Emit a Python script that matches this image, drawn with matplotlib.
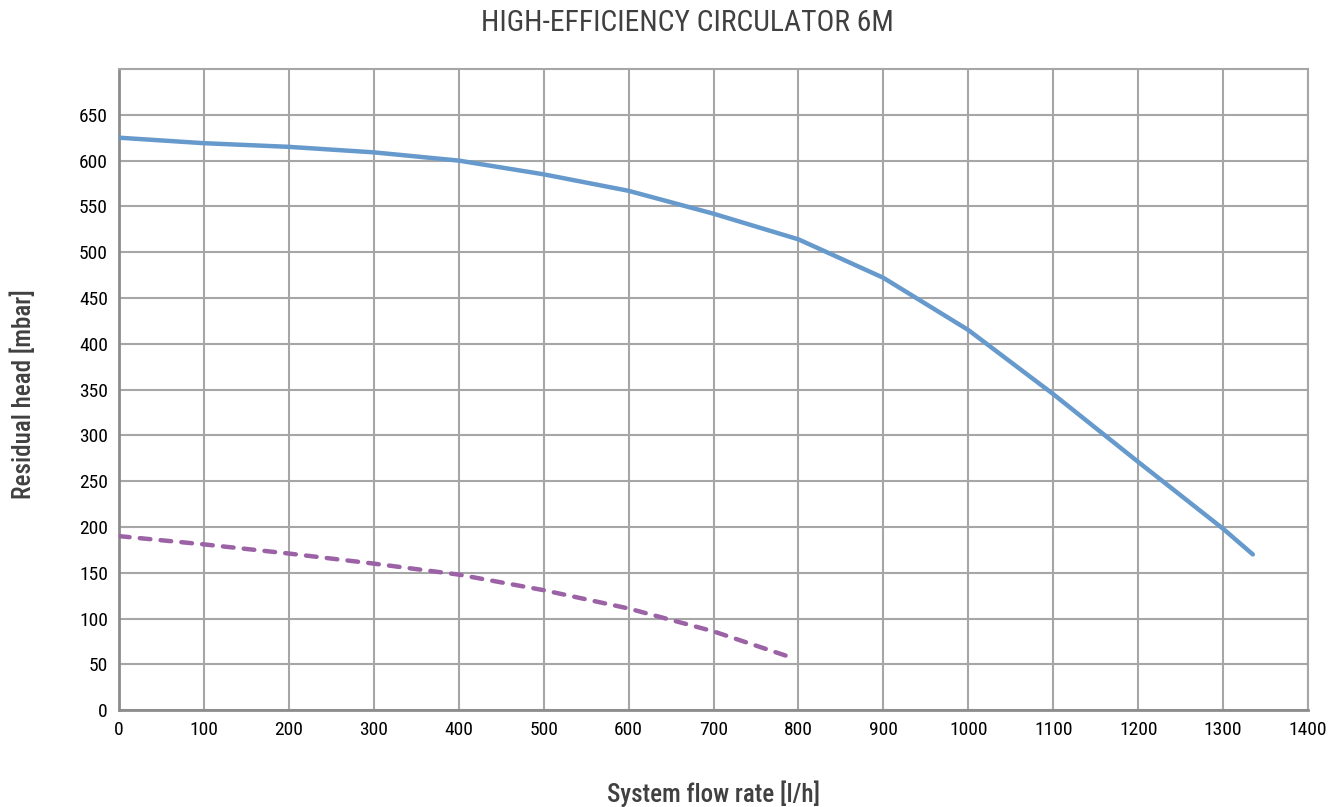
import matplotlib
matplotlib.use("Agg")
import matplotlib.pyplot as plt
from matplotlib import font_manager

flow_main = [0, 100, 200, 300, 400, 500, 600, 700, 800, 900, 1000, 1100, 1200, 1300, 1335]
head_main = [625, 619, 615, 609, 600, 585, 567, 542, 514, 472, 415, 345, 271, 198, 170]

flow_low = [0, 100, 200, 300, 400, 500, 600, 700, 790]
head_low = [190, 181, 171, 160, 148, 131, 111, 86, 58]

x_ticks = list(range(0, 1401, 100))
y_ticks = list(range(0, 651, 50))

names = {f.name for f in font_manager.fontManager.ttflist}
fam = None
for cand in ['Roboto Condensed', 'Barlow Semi Condensed', 'Archivo Narrow', 'Liberation Sans']:
    if cand in names:
        fam = cand
        break
plt.rcParams['font.family'] = [fam, 'DejaVu Sans']

fig = plt.figure(figsize=(13.43, 8.07), dpi=100)
ax = fig.add_axes([0.0886, 0.120, 0.974 - 0.0886, 0.9145 - 0.120])

ax.plot(flow_main, head_main, color='#6699CC', lw=3.2, solid_capstyle='round', zorder=3)
ax.plot(flow_low, head_low, color='#9B62A6', lw=3.2, linestyle=(0, (2.4, 2.3)),
        dash_capstyle='round', zorder=3)

ax.set_xlim(0, 1400)
ax.set_ylim(0, 700)
ax.set_xticks(x_ticks)
ax.set_yticks(y_ticks)
ax.tick_params(axis='both', length=0, labelsize=14, pad=8, colors='black')
ax.grid(True, color='#A6A6A6', lw=1.5, zorder=1)
ax.set_axisbelow(True)
for s in ['top', 'right']:
    ax.spines[s].set_color('#A6A6A6')
    ax.spines[s].set_linewidth(1.5)
for s in ['left', 'bottom']:
    ax.spines[s].set_color('#8C8C8C')
    ax.spines[s].set_linewidth(2)

fig.text(0.5115, 0.971, 'HIGH-EFFICIENCY CIRCULATOR 6M', ha='center', va='center',
         fontsize=21.3, color='#404040')
fig.text(0.531, 0.017, 'System flow rate [l/h]', ha='center', va='center',
         fontsize=18, color='#404040', fontweight='medium')
fig.text(0.017, 0.511, 'Residual head [mbar]', ha='center', va='center', rotation=90,
         fontsize=18, color='#404040', fontweight='medium')

fig.savefig('out.png', dpi=100, facecolor='white')
